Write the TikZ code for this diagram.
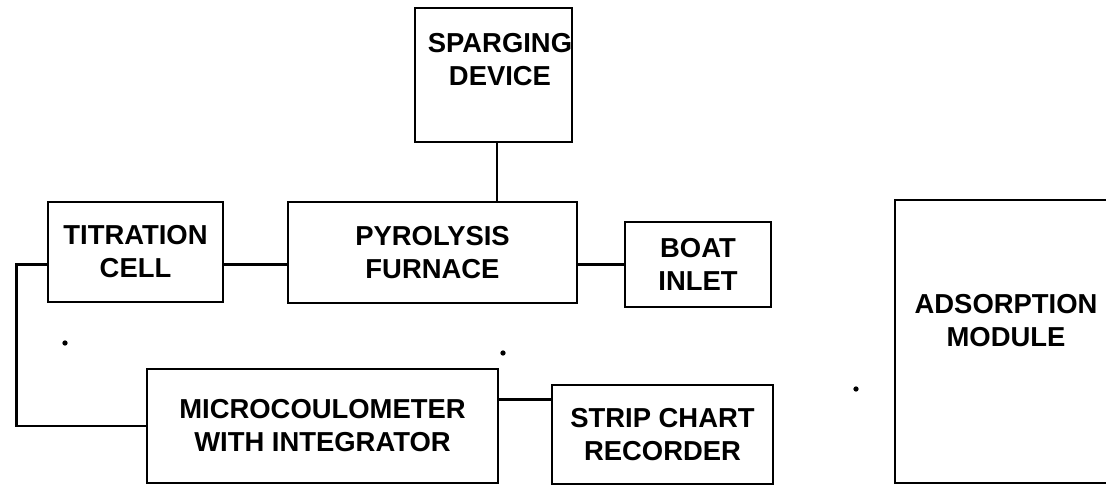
\documentclass[tikz,border=0pt]{standalone}
\usepackage{fontspec}
\setsansfont{Liberation Sans}
\usepackage{tikz}
\usetikzlibrary{positioning}
\usetikzlibrary{calc}

\begin{document}
\begin{tikzpicture}[line width=0.8pt,
  unitbox/.style={draw, align=center, inner sep=0pt, font=\sffamily\bfseries\fontsize{7.8}{9.4}\selectfont},
  lbl/.style={align=center, inner sep=0pt, font=\sffamily\bfseries\fontsize{7.8}{9.4}\selectfont},
  speck/.style={fill, circle, inner sep=0pt, minimum size=1.5pt}]
\useasboundingbox (0,0) rectangle (11.06,4.85);
% -- top: sparging device --
\node[unitbox, minimum width=1.57cm, minimum height=1.34cm] (spar) at (4.935,4.10) {};
\node[lbl] (spartext) at (5.00,4.25) {SPARGING\\DEVICE};
% -- middle row --
\node[unitbox, minimum width=1.75cm, minimum height=1.00cm] (titr) at (1.355,2.33) {TITRATION\\CELL};
\node[unitbox, minimum width=2.89cm, minimum height=1.01cm] (pyro) at (4.325,2.325) {PYROLYSIS\\FURNACE};
\node[unitbox, minimum width=1.46cm, minimum height=0.85cm] (boat) at (6.98,2.205) {BOAT\\INLET};
% -- bottom row --
\node[unitbox, minimum width=3.51cm, minimum height=1.14cm] (micro) at (3.225,0.59) {MICROCOULOMETER\\WITH INTEGRATOR};
\node[unitbox, minimum width=2.21cm, minimum height=0.99cm] (strip) at (6.625,0.505) {STRIP CHART\\RECORDER};
% -- right: adsorption module --
\node[unitbox, minimum width=2.22cm, minimum height=2.83cm] (adso) at (10.06,1.435) {};
\node[lbl] (adsotext) at (10.06,1.64) {ADSORPTION\\MODULE};
% -- connections --
\draw ([xshift=0.035cm]spar.south) to ([xshift=0.035cm]spar.south |- pyro.north);
\draw (titr.east |- boat.west) to (pyro.west |- boat.west);
\draw (pyro.east |- boat.west) to (boat.west);
\draw (titr.west |- boat.west) -- ++(-0.30,0) |- (micro.west);
\draw ([yshift=-0.32cm]micro.north east) to ([yshift=-0.32cm]micro.north east -| strip.west);
% -- specks --
\node[speck] (s1) at (0.65,1.42) {};
\node[speck] (s2) at (5.03,1.32) {};
\node[speck] (s3) at (8.56,0.96) {};
\end{tikzpicture}
\end{document}
